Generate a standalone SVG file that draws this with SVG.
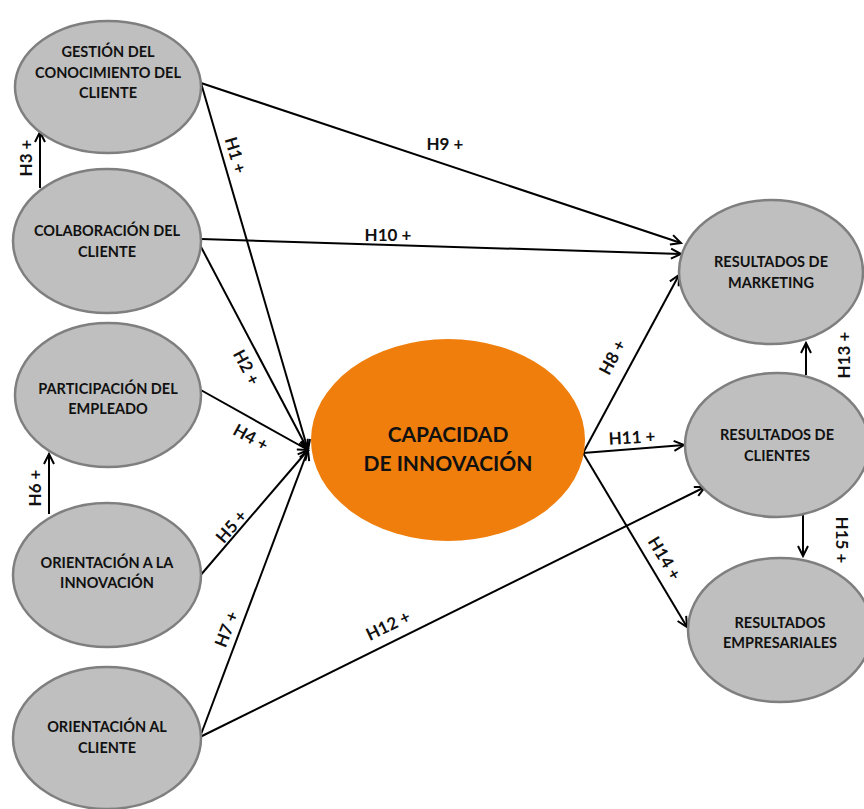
<svg xmlns="http://www.w3.org/2000/svg" width="864" height="809" viewBox="0 0 864 809">
<style>
.node ellipse{fill:#BFBFBF;stroke:#7F7F7F;stroke-width:2.5}
.nt{font-family:Lato,"Open Sans","Liberation Sans",sans-serif;font-weight:700;font-size:14.5px;fill:#111;text-anchor:middle}
.ct{font-family:Lato,"Open Sans","Liberation Sans",sans-serif;font-weight:700;font-size:21px;fill:#111;text-anchor:middle}
.lb{font-family:Lato,"Open Sans","Liberation Sans",sans-serif;font-weight:700;font-size:17px;fill:#111;text-anchor:middle;dominant-baseline:central}
.edges line{stroke:#000;stroke-width:2;fill:none;marker-end:url(#arr)}
</style>
<defs>
<marker id="arr" markerUnits="userSpaceOnUse" markerWidth="14" markerHeight="14" refX="11" refY="6" orient="auto" viewBox="0 0 14 12">
<path d="M1,1 L11,6 L1,11" fill="none" stroke="#000" stroke-width="2"/>
</marker>
</defs>
<rect width="864" height="809" fill="#fff"/>

<g class="edges" id="connectors">
<line x1="201" y1="83" x2="308" y2="450"/>
<line x1="201" y1="83" x2="681" y2="243"/>
<line x1="201" y1="239" x2="681" y2="254"/>
<line x1="200" y1="245" x2="308" y2="450"/>
<line x1="199" y1="389" x2="308" y2="450"/>
<line x1="199" y1="577" x2="308" y2="450"/>
<line x1="200" y1="737" x2="308" y2="450"/>
<line x1="200" y1="737" x2="705" y2="487"/>
<line x1="583" y1="453" x2="679" y2="275"/>
<line x1="583" y1="453" x2="684" y2="445"/>
<line x1="583" y1="453" x2="687" y2="627"/>
<line x1="40" y1="188" x2="40" y2="132"/>
<line x1="49" y1="514" x2="49" y2="454"/>
<line x1="806" y1="375" x2="806" y2="343"/>
<line x1="803" y1="514" x2="803" y2="556"/>
</g>

<g id="gestion" class="node">
<ellipse cx="108" cy="87" rx="93" ry="66"/>
<text class="nt" x="108" y="57">GESTIÓN DEL</text>
<text class="nt" x="108" y="78">CONOCIMIENTO DEL</text>
<text class="nt" x="108" y="98">CLIENTE</text>
</g>
<g id="colaboracion" class="node">
<ellipse cx="107" cy="241" rx="94" ry="72"/>
<text class="nt" x="107" y="236">COLABORACIÓN DEL</text>
<text class="nt" x="107" y="257">CLIENTE</text>
</g>
<g id="participacion" class="node">
<ellipse cx="108" cy="395" rx="93" ry="72"/>
<text class="nt" x="108" y="394">PARTICIPACIÓN DEL</text>
<text class="nt" x="108" y="414">EMPLEADO</text>
</g>
<g id="orientacion-innovacion" class="node">
<ellipse cx="107" cy="575" rx="94" ry="72"/>
<text class="nt" x="107" y="568">ORIENTACIÓN A LA</text>
<text class="nt" x="107" y="588">INNOVACIÓN</text>
</g>
<g id="orientacion-cliente" class="node">
<ellipse cx="107" cy="738" rx="94" ry="71"/>
<text class="nt" x="107" y="732">ORIENTACIÓN AL</text>
<text class="nt" x="107" y="753">CLIENTE</text>
</g>
<g id="capacidad">
<ellipse cx="448" cy="440" rx="137" ry="101" fill="#EF7E0C"/>
<text class="ct" x="448" y="442">CAPACIDAD</text>
<text class="ct" x="448" y="471">DE INNOVACIÓN</text>
</g>
<g id="marketing" class="node">
<ellipse cx="771" cy="272" rx="92" ry="72"/>
<text class="nt" x="771" y="267">RESULTADOS DE</text>
<text class="nt" x="771" y="288">MARKETING</text>
</g>
<g id="clientes" class="node">
<ellipse cx="777" cy="445" rx="92" ry="72"/>
<text class="nt" x="777" y="440">RESULTADOS DE</text>
<text class="nt" x="777" y="461">CLIENTES</text>
</g>
<g id="empresariales" class="node">
<ellipse cx="780" cy="630" rx="92" ry="72"/>
<text class="nt" x="780" y="628">RESULTADOS</text>
<text class="nt" x="780" y="648">EMPRESARIALES</text>
</g>

<g id="labels">
<text class="lb" transform="translate(25,158) rotate(-90)">H3 +</text>
<text class="lb" transform="translate(34,488) rotate(-90)">H6 +</text>
<text class="lb" transform="translate(843,355) rotate(-90)">H13 +</text>
<text class="lb" transform="translate(842,540) rotate(90)">H15 +</text>
<text class="lb" transform="translate(236,155) rotate(73)">H1 +</text>
<text class="lb" transform="translate(247,367) rotate(62)">H2 +</text>
<text class="lb" transform="translate(251,437) rotate(29)">H4 +</text>
<text class="lb" transform="translate(231,526) rotate(-49)">H5 +</text>
<text class="lb" transform="translate(226,629) rotate(-69)">H7 +</text>
<text class="lb" transform="translate(612,357) rotate(-62)">H8 +</text>
<text class="lb" transform="translate(388,625) rotate(-26)">H12 +</text>
<text class="lb" transform="translate(665,558) rotate(59)">H14 +</text>
<text class="lb" transform="translate(632,437) rotate(-3)">H11 +</text>
<text class="lb" x="445" y="143">H9 +</text>
<text class="lb" x="388" y="234">H10 +</text>
</g>
</svg>
